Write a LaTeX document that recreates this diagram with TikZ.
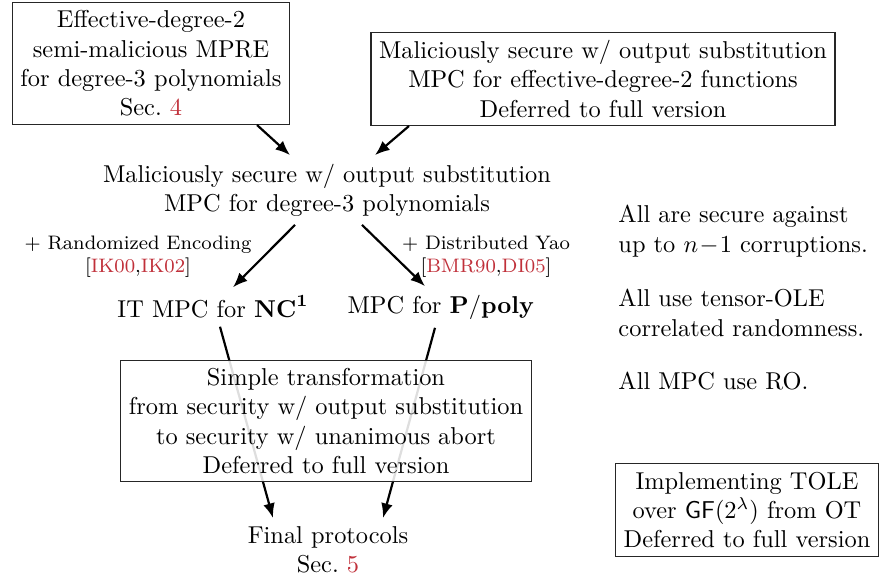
\documentclass[tikz,border=0pt]{standalone}
\usetikzlibrary{calc,arrows.meta}
\definecolor{refred}{RGB}{192,48,58}
\newcommand{\refc}[1]{\textcolor{refred}{#1}}
\begin{document}
\begin{tikzpicture}[x=0.41pt,y=-0.41pt,
  box/.style={draw=black!85, line width=0.45pt, align=center},
  plain/.style={align=center},
  note/.style={align=left, anchor=west, inner sep=0pt},
  lbl/.style={align=center, font=\footnotesize},
  arr/.style={-{Latex[length=6pt,width=4.8pt]}, line width=0.9pt}]
\useasboundingbox (0,0) rectangle (880,577);

% top row
\node[box, anchor=south] (A) at (151,125)
  {Effective-degree-2\\semi-malicious MPRE\\for degree-3 polynomials\\Sec.~\refc{4}};
\node[box, anchor=south] (B) at (603,126)
  {Maliciously secure w/ output substitution\\MPC for effective-degree-2 functions\\Deferred to full version};

% middle
\node[plain] (C) at (327,190)
  {Maliciously secure w/ output substitution\\MPC for degree-3 polynomials};
\node[plain] (D) at (213,307) {IT MPC for $\mathbf{NC}^{\mathbf{1}}$};
\node[plain] (E) at (441,307) {MPC for $\mathbf{P/poly}$};

\node[lbl] (L1) at (138,257) {+ Randomized Encoding\\{[}\refc{IK00},\refc{IK02}{]}};
\node[lbl] (L2) at (486,257) {+ Distributed Yao\\{[}\refc{BMR90},\refc{DI05}{]}};

\node[plain] (G) at (328,550) {Final protocols\\Sec.~\refc{5}};

% connectors
\draw[arr] ($(A.south)+(106,0)$) -- ($(C.north)+(-37,0)$);
\draw[arr] ($(B.south)+(-194,0)$) -- ($(C.north)+(48,0)$);
\draw[arr] ($(C.south)+(-32,0)$) -- ($(D.north)+(20,0)$);
\draw[arr] ($(C.south)+(35,0)$) -- ($(E.north)+(-16,0)$);
\draw[arr] ($(D.south)+(7,0)$) -- ($(G.north)+(-55,0)$);
\draw[arr] ($(E.south)+(-6,0)$) -- ($(G.north)+(55,0)$);

% translucent box over the lower connectors
\node[box, fill=white, fill opacity=0.87, text opacity=1] (F) at (326,421)
  {Simple transformation\\from security w/ output substitution\\to security w/ unanimous abort\\Deferred to full version};

% side notes
\node[note] (N1) at (618,231) {All are secure against\\up to $n\!-\!1$ corruptions.};
\node[note] (N2) at (618,313) {All use tensor-OLE\\correlated randomness.};
\node[note] (N3) at (618,381) {All MPC use RO.};

\node[box] (H) at (747,510)
  {Implementing TOLE\\over $\mathsf{GF}(2^{\lambda})$ from OT\\Deferred to full version};
\end{tikzpicture}
\end{document}
